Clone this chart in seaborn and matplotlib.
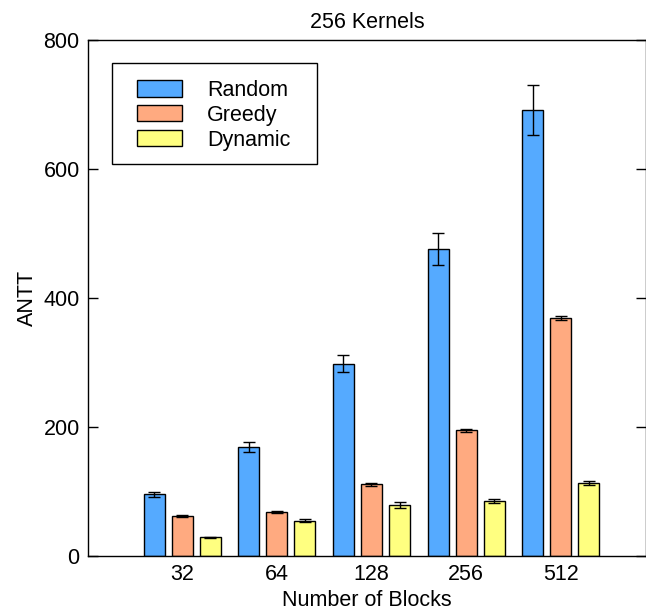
import pandas as pd
import matplotlib
matplotlib.use("Agg")
import matplotlib.pyplot as plt
from matplotlib.patches import Rectangle
import seaborn as sns

# Data
blocks = ["32", "64", "128", "256", "512"]
methods = ["Random", "Greedy", "Dynamic"]
random_vals = [96, 169, 298, 476, 691]
greedy_vals = [62, 68, 111, 195, 369]
dynamic_vals = [29, 55, 79, 85, 113]
random_err = [4, 7, 13, 25, 39]
greedy_err = [1, 2, 2, 2, 3]
dynamic_err = [1, 2, 4, 3, 3]
colors = ["#55AAFF", "#FFAA80", "#FFFF80"]

rows = []
for m, vals in zip(methods, [random_vals, greedy_vals, dynamic_vals]):
    for b, v in zip(blocks, vals):
        rows.append({"blocks": b, "antt": v, "method": m})
df = pd.DataFrame(rows)
errs = {"Random": random_err, "Greedy": greedy_err, "Dynamic": dynamic_err}

sns.set_style("white")
plt.rcParams["font.family"] = ["Liberation Sans", "DejaVu Sans"]
plt.rcParams["text.color"] = "black"
plt.rcParams["axes.labelcolor"] = "black"
plt.rcParams["xtick.color"] = "black"
plt.rcParams["ytick.color"] = "black"

fig = plt.figure(figsize=(6.46, 6.12), dpi=100)
ax = fig.add_axes([0.1362, 0.0915, 0.8638, 0.8431])

sns.barplot(data=df, x="blocks", y="antt", hue="method", order=blocks,
            hue_order=methods, palette=colors, saturation=1, width=0.89,
            gap=0.25, edgecolor="black", linewidth=1, errorbar=None, ax=ax,
            legend=True)

# error bars at the bar centers
for cont, m in zip(ax.containers, methods):
    xs = [p.get_x() + p.get_width() / 2 for p in cont]
    ys = [p.get_height() for p in cont]
    ax.errorbar(xs, ys, yerr=errs[m], fmt="none", ecolor="black",
                elinewidth=1, capsize=4, capthick=1)

ax.set_xlim(-0.995, 4.9)
ax.set_ylim(0, 800)
ax.set_yticks([0, 200, 400, 600, 800])
ax.tick_params(axis="y", direction="in", length=7, width=1, right=True,
               left=True, labelsize=15.5, pad=6)
ax.tick_params(axis="x", length=0, labelsize=15.5, pad=6)
for s in ax.spines.values():
    s.set_visible(True)
    s.set_color("black")
    s.set_linewidth(1)

ax.set_title("256 Kernels", fontsize=15.5, pad=9)
ax.set_xlabel("Number of Blocks", fontsize=15.5, labelpad=3)
ax.set_ylabel("ANTT", fontsize=15.5, labelpad=4)

# legend entries without frame, box drawn separately to match the padding
ax.legend(loc="upper left", bbox_to_anchor=(0.088, 0.9225),
          borderaxespad=0, borderpad=0, fontsize=15.5, handlelength=2.1,
          handleheight=0.78, handletextpad=1.15, labelspacing=0.18,
          frameon=False)
ax.add_patch(Rectangle((0.0431, 0.760), 0.368, 0.195, transform=ax.transAxes,
                       fill=False, edgecolor="black", linewidth=1, zorder=5))

fig.savefig("out.png", dpi=100)
